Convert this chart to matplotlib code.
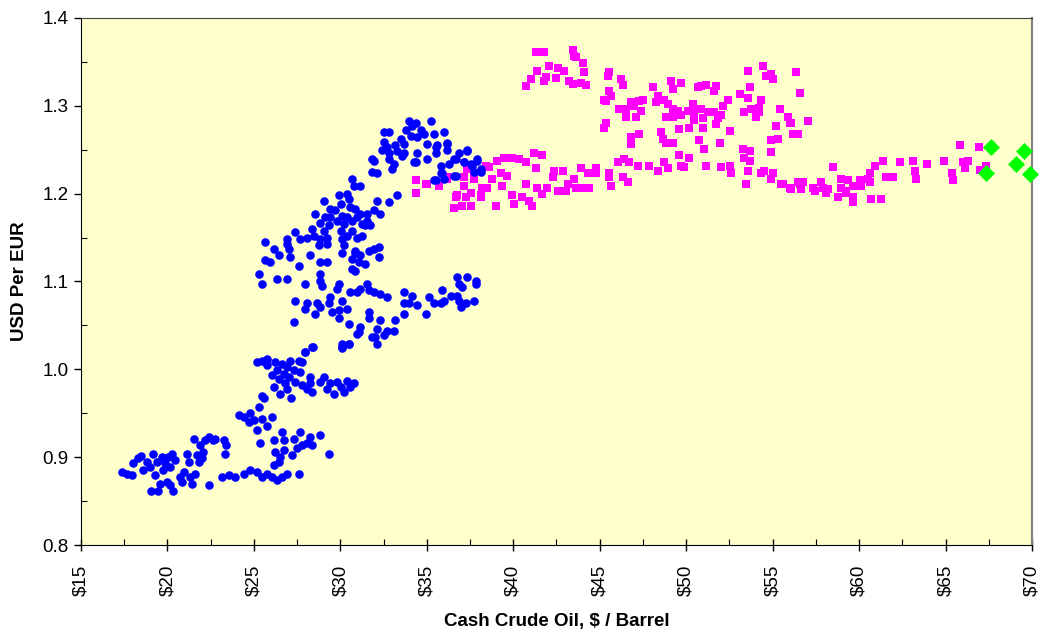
import numpy as np
import matplotlib.pyplot as plt
from matplotlib.ticker import MultipleLocator

plt.rcParams['font.family'] = ['Liberation Sans', 'DejaVu Sans']

# (oil $/barrel, USD per EUR)
blue_pts = [
    (17.36, 0.883), (17.65, 0.881), (17.94, 0.880), (18.03, 0.893), (18.32, 0.899),
    (18.50, 0.901), (18.60, 0.885), (18.80, 0.895), (19.00, 0.889), (19.19, 0.904),
    (19.29, 0.880), (19.39, 0.895), (19.58, 0.870), (19.68, 0.900), (19.77, 0.885),
    (19.87, 0.893), (19.96, 0.872), (20.06, 0.900), (20.16, 0.889), (20.25, 0.904),
    (20.35, 0.862), (20.45, 0.897), (19.48, 0.861), (19.04, 0.862), (20.16, 0.868),
    (20.74, 0.878), (20.83, 0.872), (20.93, 0.883), (21.12, 0.904), (21.22, 0.895),
    (21.32, 0.878), (21.41, 0.870), (21.51, 0.921), (21.60, 0.881), (21.70, 0.902),
    (21.80, 0.895), (21.89, 0.914), (21.99, 0.899), (22.08, 0.906), (22.18, 0.919),
    (22.38, 0.923), (22.43, 0.868), (22.66, 0.919), (22.76, 0.921), (23.25, 0.919),
    (23.34, 0.904), (23.40, 0.914), (23.15, 0.878), (23.54, 0.880), (23.92, 0.878),
    (24.40, 0.881), (24.79, 0.885), (25.18, 0.883), (25.47, 0.878), (25.76, 0.881),
    (26.05, 0.878), (26.34, 0.874), (26.63, 0.878), (26.92, 0.881), (27.59, 0.881),
    (26.14, 0.891), (26.43, 0.895), (26.53, 0.900), (26.24, 0.906), (26.72, 0.908),
    (27.21, 0.902), (27.50, 0.910), (27.79, 0.914), (28.08, 0.916), (28.37, 0.914),
    (28.27, 0.923), (28.85, 0.925), (29.33, 0.904), (25.37, 0.916), (26.14, 0.919),
    (26.63, 0.929), (26.72, 0.919), (27.30, 0.921), (27.69, 0.929),
    (24.12, 0.948), (24.40, 0.946), (24.79, 0.950), (24.69, 0.940), (24.98, 0.942),
    (25.18, 0.931), (25.27, 0.957), (25.47, 0.970), (25.56, 0.967), (25.47, 0.944),
    (25.76, 0.936), (26.05, 0.946), (25.18, 1.008), (25.47, 1.010), (25.76, 1.012),
    (25.76, 1.005), (26.05, 0.993), (26.14, 0.980), (26.24, 1.008), (26.34, 0.999),
    (26.43, 0.989), (26.53, 0.972), (26.63, 1.006), (26.72, 0.995), (26.82, 0.984),
    (26.92, 1.003), (26.92, 0.978), (27.01, 0.991), (27.11, 1.010), (27.15, 0.967),
    (27.30, 0.999), (27.40, 0.986), (27.59, 1.010), (27.69, 0.997), (27.79, 1.008),
    (27.79, 0.982), (27.98, 1.020), (28.08, 0.978), (28.27, 0.984), (28.27, 0.991),
    (28.42, 1.025), (28.37, 0.974), (28.85, 0.986), (29.04, 0.991), (29.24, 0.978),
    (29.43, 0.984), (29.62, 0.972), (29.81, 0.986), (30.01, 0.980), (30.20, 0.974),
    (30.39, 0.987), (30.58, 0.980), (30.78, 0.984), (30.10, 1.025), (30.49, 1.029),
    (30.97, 1.040),
    (33.96, 1.283), (34.16, 1.277), (34.35, 1.281), (35.22, 1.283), (33.77, 1.272),
    (34.64, 1.273), (34.83, 1.268), (32.51, 1.270), (32.80, 1.270), (33.48, 1.262),
    (34.06, 1.266), (34.45, 1.264), (35.41, 1.268), (35.99, 1.270), (32.51, 1.259),
    (32.71, 1.253), (33.19, 1.255), (33.67, 1.257), (35.02, 1.257), (35.60, 1.255),
    (36.18, 1.257), (32.41, 1.250), (32.80, 1.246), (33.29, 1.248), (33.67, 1.246),
    (34.45, 1.246), (35.51, 1.246), (36.18, 1.250), (36.86, 1.246), (37.34, 1.250),
    (32.80, 1.239), (33.09, 1.234), (33.00, 1.228), (34.26, 1.236), (35.02, 1.239),
    (35.80, 1.232), (36.28, 1.234), (36.67, 1.239), (37.15, 1.236), (37.54, 1.234),
    (37.92, 1.239), (38.12, 1.228), (31.83, 1.239), (31.93, 1.237), (31.83, 1.225),
    (32.12, 1.223), (35.80, 1.223), (35.41, 1.215), (36.00, 1.217), (36.57, 1.220),
    (37.73, 1.225), (33.58, 1.243), (34.35, 1.236), (35.51, 1.253), (36.18, 1.258),
    (36.57, 1.239), (37.34, 1.249), (37.15, 1.236), (37.92, 1.237), (36.67, 1.220),
    (35.51, 1.215), (35.89, 1.223), (38.12, 1.225), (37.63, 1.232),
    (30.68, 1.217), (30.78, 1.209), (31.16, 1.209), (30.39, 1.200), (29.91, 1.198),
    (30.49, 1.194), (29.04, 1.192), (29.43, 1.183), (30.01, 1.188), (30.58, 1.185),
    (30.87, 1.183), (31.16, 1.177), (31.55, 1.177), (31.94, 1.181), (32.13, 1.192),
    (32.80, 1.190), (33.29, 1.198), (32.32, 1.177), (28.56, 1.177), (28.85, 1.167),
    (29.14, 1.173), (29.43, 1.173), (29.72, 1.181), (29.81, 1.169), (30.10, 1.175),
    (30.20, 1.165), (30.39, 1.173), (30.68, 1.169), (30.97, 1.173), (31.26, 1.165),
    (31.55, 1.169), (31.74, 1.164), (29.33, 1.164), (29.04, 1.158), (28.37, 1.160),
    (28.46, 1.152), (28.85, 1.148), (29.24, 1.150), (30.01, 1.158), (30.10, 1.148),
    (30.39, 1.152), (30.68, 1.158), (30.97, 1.150), (31.26, 1.152), (31.45, 1.164),
    (27.40, 1.156), (27.69, 1.148), (28.08, 1.150), (26.92, 1.148), (26.92, 1.143),
    (27.01, 1.137), (28.75, 1.141), (29.24, 1.143), (30.20, 1.141), (30.87, 1.135),
    (25.66, 1.145), (26.14, 1.137), (26.43, 1.130), (25.66, 1.124), (25.95, 1.122),
    (27.11, 1.128), (27.59, 1.118), (28.27, 1.130), (28.85, 1.122), (29.24, 1.122),
    (30.10, 1.133), (30.68, 1.126), (30.87, 1.133), (31.16, 1.130), (31.07, 1.122),
    (31.45, 1.120), (31.64, 1.135), (31.94, 1.137), (32.23, 1.139), (32.23, 1.128),
    (30.68, 1.114), (30.87, 1.112), (25.27, 1.109), (25.47, 1.097), (26.34, 1.103),
    (26.92, 1.103), (27.98, 1.097), (28.85, 1.109), (28.85, 1.101), (28.94, 1.095),
    (29.91, 1.097), (29.81, 1.092), (30.58, 1.088), (30.97, 1.088), (31.16, 1.092),
    (31.55, 1.097), (31.64, 1.090), (31.94, 1.088), (32.32, 1.086), (32.71, 1.082),
    (27.40, 1.078), (28.08, 1.075), (27.98, 1.069), (28.65, 1.076), (28.85, 1.071),
    (28.56, 1.063), (29.43, 1.082), (29.33, 1.076), (30.10, 1.078), (29.52, 1.065),
    (29.91, 1.067), (30.39, 1.069), (29.91, 1.058), (27.30, 1.054), (31.64, 1.065),
    (31.64, 1.058), (32.32, 1.056), (33.19, 1.056), (30.49, 1.052), (31.16, 1.048),
    (32.13, 1.046), (32.71, 1.044), (33.09, 1.044), (31.07, 1.042), (32.03, 1.037),
    (32.51, 1.039), (31.84, 1.037), (32.13, 1.029), (30.10, 1.029), (30.49, 1.029),
    (30.10, 1.024), (28.37, 1.025), (27.98, 1.020), (33.67, 1.088), (34.16, 1.084),
    (33.67, 1.076), (33.96, 1.075), (34.45, 1.073), (34.93, 1.063), (33.67, 1.063),
    (35.12, 1.082), (35.41, 1.075), (35.80, 1.075), (35.89, 1.090), (35.99, 1.078),
    (36.38, 1.084), (36.76, 1.084), (36.86, 1.078), (36.96, 1.071), (37.25, 1.075),
    (37.73, 1.078), (36.76, 1.105), (37.34, 1.105), (36.86, 1.097), (37.05, 1.094),
    (37.83, 1.101), (37.83, 1.097),
]

pink_pts = [
    (41.30, 1.361), (41.78, 1.361), (43.43, 1.363), (43.52, 1.357), (43.62, 1.355),
    (44.01, 1.349), (42.07, 1.345), (42.56, 1.343), (42.94, 1.340), (41.40, 1.340),
    (41.88, 1.333), (42.46, 1.332), (44.10, 1.338), (41.01, 1.330), (41.78, 1.328),
    (43.23, 1.328), (43.43, 1.325), (43.91, 1.326), (44.20, 1.324), (40.72, 1.322),
    (45.55, 1.338), (45.46, 1.334), (46.23, 1.330), (46.32, 1.324), (45.55, 1.317),
    (45.65, 1.311), (45.36, 1.306), (45.26, 1.307), (46.13, 1.296), (46.52, 1.296),
    (46.81, 1.304), (47.00, 1.300), (47.29, 1.306), (47.49, 1.307), (47.39, 1.294),
    (47.10, 1.287), (46.52, 1.287), (45.36, 1.281), (45.26, 1.275), (48.06, 1.321),
    (48.35, 1.311), (48.26, 1.304), (48.74, 1.307), (48.93, 1.302), (49.12, 1.328),
    (49.22, 1.319), (49.70, 1.326), (49.22, 1.296), (49.51, 1.294), (48.84, 1.287),
    (49.22, 1.287), (49.70, 1.289), (50.09, 1.294), (50.38, 1.302), (50.67, 1.321),
    (50.86, 1.323), (51.15, 1.324), (51.73, 1.323), (51.63, 1.317), (50.48, 1.293),
    (50.86, 1.296), (51.25, 1.293), (51.63, 1.293), (52.02, 1.289), (52.12, 1.300),
    (52.41, 1.307), (50.48, 1.284), (50.96, 1.286), (51.83, 1.286), (49.61, 1.274),
    (50.19, 1.275), (50.96, 1.275), (51.73, 1.279), (52.51, 1.271), (48.54, 1.270),
    (48.64, 1.262), (48.84, 1.258), (49.22, 1.258), (46.81, 1.264), (47.29, 1.268),
    (46.81, 1.257), (50.77, 1.261), (51.06, 1.251), (51.93, 1.258), (53.09, 1.313),
    (53.57, 1.340), (53.67, 1.321), (53.57, 1.309), (54.34, 1.307), (54.44, 1.345),
    (54.63, 1.334), (54.92, 1.336), (55.01, 1.330), (53.37, 1.293), (53.76, 1.296),
    (54.24, 1.298), (54.05, 1.287), (54.24, 1.293), (55.40, 1.296), (55.88, 1.287),
    (56.07, 1.281), (55.21, 1.277), (56.46, 1.268), (54.92, 1.261), (55.30, 1.262),
    (53.28, 1.251), (53.67, 1.249), (54.92, 1.247), (56.37, 1.338), (56.56, 1.315),
    (55.98, 1.281), (57.04, 1.283), (56.17, 1.268),
    (34.35, 1.215), (34.35, 1.201), (34.93, 1.211), (35.70, 1.209), (36.19, 1.219),
    (36.67, 1.196), (36.57, 1.184), (37.05, 1.186), (37.25, 1.196), (37.15, 1.209),
    (37.15, 1.219), (37.34, 1.229), (37.54, 1.201), (37.54, 1.186), (37.73, 1.217),
    (38.12, 1.196), (38.21, 1.207), (38.40, 1.232), (38.60, 1.230), (38.79, 1.217),
    (38.98, 1.186), (39.08, 1.237), (39.27, 1.224), (39.47, 1.241), (39.37, 1.209),
    (39.66, 1.220), (39.95, 1.241), (39.95, 1.198), (40.05, 1.188), (40.34, 1.239),
    (40.53, 1.196), (40.72, 1.236), (40.72, 1.211), (40.92, 1.192), (41.11, 1.186),
    (41.21, 1.246), (41.30, 1.229), (41.40, 1.206), (41.69, 1.244), (41.69, 1.200),
    (41.98, 1.206), (42.36, 1.226), (42.27, 1.219), (42.56, 1.203), (42.85, 1.226),
    (43.04, 1.203), (43.14, 1.211), (43.52, 1.217), (43.62, 1.206), (43.91, 1.229),
    (44.01, 1.206), (44.30, 1.224), (44.40, 1.207), (44.78, 1.229), (44.78, 1.223),
    (45.55, 1.224), (45.55, 1.219), (45.65, 1.209), (46.03, 1.236), (46.42, 1.239),
    (46.71, 1.236), (46.32, 1.219), (46.61, 1.213), (47.19, 1.232), (47.87, 1.232),
    (48.35, 1.226), (48.74, 1.236), (48.93, 1.229), (49.61, 1.244), (50.19, 1.241),
    (49.70, 1.232), (49.90, 1.230), (51.15, 1.232), (52.02, 1.230), (52.51, 1.232),
    (52.60, 1.224), (53.37, 1.241), (53.67, 1.237), (53.57, 1.226), (53.48, 1.211),
    (54.34, 1.223), (54.53, 1.226), (55.01, 1.224), (54.92, 1.217), (55.50, 1.211),
    (55.98, 1.207), (56.46, 1.213), (35.02, 1.211), (36.19, 1.217), (37.34, 1.228),
    (37.73, 1.220), (38.40, 1.230), (38.50, 1.207), (38.12, 1.199), (36.76, 1.199),
    (55.60, 1.211), (56.08, 1.205), (56.56, 1.211), (56.75, 1.213), (56.66, 1.205),
    (57.33, 1.207), (57.43, 1.203), (57.81, 1.213), (57.91, 1.207), (58.20, 1.205),
    (58.10, 1.201), (58.49, 1.230), (58.78, 1.196), (58.97, 1.217), (58.97, 1.207),
    (59.26, 1.203), (59.26, 1.201), (59.36, 1.215), (59.65, 1.196), (59.65, 1.190),
    (59.65, 1.209), (60.03, 1.215), (60.13, 1.209), (60.51, 1.217), (60.61, 1.224),
    (60.61, 1.213), (60.71, 1.194), (60.90, 1.232), (61.29, 1.194), (61.39, 1.237),
    (61.58, 1.219), (61.97, 1.219), (62.35, 1.236), (63.12, 1.237), (63.22, 1.226),
    (63.32, 1.217), (63.94, 1.234), (64.90, 1.237), (65.35, 1.223), (65.44, 1.215),
    (65.83, 1.255), (66.02, 1.236), (66.31, 1.237), (66.12, 1.229), (66.93, 1.253),
    (66.99, 1.227), (67.32, 1.231),
]

green_pts = [(67.62, 1.253), (67.32, 1.223), (69.54, 1.249), (69.06, 1.234), (69.89, 1.222)]

x_ticks = [15, 20, 25, 30, 35, 40, 45, 50, 55, 60, 65, 70]
x_tick_labels = ['\\$' + str(v) for v in x_ticks]
y_ticks = [0.8, 0.9, 1.0, 1.1, 1.2, 1.3, 1.4]

blue = np.array(blue_pts)
pink = np.array(pink_pts)
green = np.array(green_pts)

fig = plt.figure(figsize=(10.42, 6.35), dpi=100)
ax = fig.add_axes([0.0777, 0.1417, 0.9127, 0.830])
ax.set_facecolor('#FFFFCC')

ax.scatter(blue[:, 0], blue[:, 1], s=38, marker='o', color='#0000FF', linewidths=0, zorder=3)
ax.scatter(pink[:, 0], pink[:, 1], s=27, marker='s', color='#FF00FF', linewidths=0, zorder=2)
ax.scatter(green[:, 0], green[:, 1], s=75, marker='D', color='#00FF00', linewidths=0,
           zorder=4, clip_on=False)

ax.set_xlim(15, 70)
ax.set_ylim(0.8, 1.4)
ax.set_xticks(x_ticks)
ax.set_xticklabels(x_tick_labels, rotation=90, fontsize=13.5)
ax.set_yticks(y_ticks)
ax.set_yticklabels(['%.1f' % v for v in y_ticks], fontsize=13.5)
ax.xaxis.set_minor_locator(MultipleLocator(2.5))
ax.yaxis.set_minor_locator(MultipleLocator(0.05))
ax.tick_params(axis='x', which='major', direction='inout', length=8, width=1, pad=10)
ax.tick_params(axis='y', which='major', direction='out', length=5, width=1, pad=4)
ax.tick_params(which='minor', direction='in', length=4, width=0.8)

ax.spines['left'].set_color('black')
ax.spines['bottom'].set_color('black')
ax.spines['top'].set_color('#404040')
ax.spines['right'].set_color('#808080')
ax.spines['right'].set_linewidth(1.5)

ax.set_xlabel('Cash Crude Oil, \\$ / Barrel', fontsize=13.5, fontweight='bold', labelpad=12)
ax.set_ylabel('USD Per EUR', fontsize=13.5, fontweight='bold', labelpad=10)

fig.savefig('out.png', dpi=100)
